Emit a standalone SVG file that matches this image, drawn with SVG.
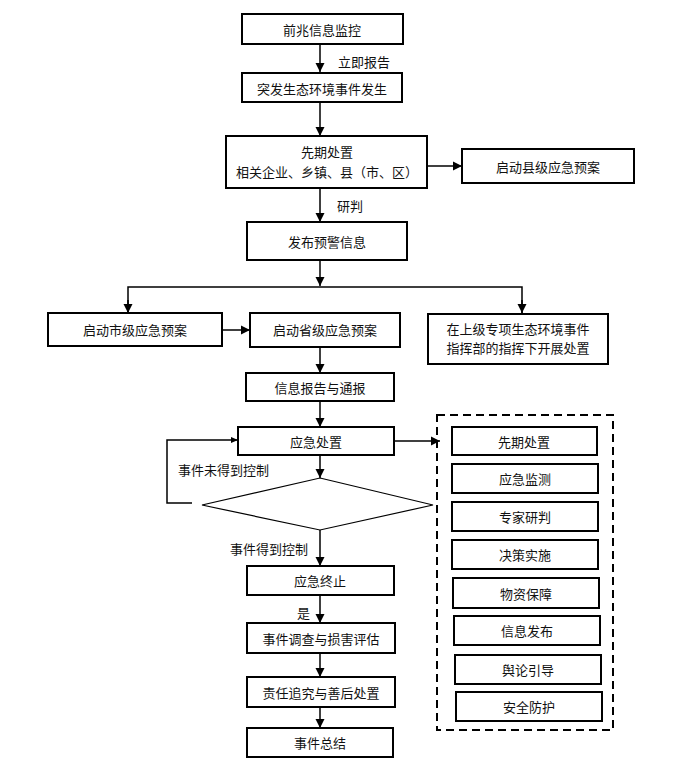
<svg xmlns="http://www.w3.org/2000/svg" width="676" height="760" viewBox="0 0 676 760">
<defs>
<style>
.box{fill:#fff;stroke:#000;stroke-width:2}
.t{font-family:"Noto Sans CJK SC","Noto Sans CJK JP",sans-serif;font-size:13px;fill:#111;text-anchor:middle;dominant-baseline:central}
.l{font-family:"Noto Sans CJK SC","Noto Sans CJK JP",sans-serif;font-size:13px;fill:#111;dominant-baseline:central}
.c{fill:none;stroke:#000;stroke-width:1.5}
</style>
<marker id="ah" markerUnits="userSpaceOnUse" markerWidth="10" markerHeight="10" refX="9" refY="5" orient="auto">
<path d="M0,0.5 L9,5 L0,9.5 Z" fill="#000"/>
</marker>
<marker id="as" markerUnits="userSpaceOnUse" markerWidth="8" markerHeight="8" refX="7" refY="4" orient="auto">
<path d="M0,1 L7,4 L0,7 Z" fill="#000"/>
</marker>
</defs>
<rect width="676" height="760" fill="#fff"/>

<g id="connectors">
<path class="c" d="M320,44 V72" marker-end="url(#ah)"/>
<path class="c" d="M320,102 V136" marker-end="url(#ah)"/>
<path class="c" d="M427,166 H462" marker-end="url(#ah)"/>
<path class="c" d="M320,188 V222" marker-end="url(#ah)"/>
<path class="c" d="M320,260 V286" marker-end="url(#ah)"/>
<path class="c" d="M128,312 V287 H522 V313" />
<path class="c" d="M128,300 V313" marker-end="url(#ah)"/>
<path class="c" d="M522,300 V313" marker-end="url(#ah)"/>
<path class="c" d="M223,330 H250" marker-end="url(#ah)"/>
<path class="c" d="M320,347 V373" marker-end="url(#ah)"/>
<path class="c" d="M320,401 V427" marker-end="url(#ah)"/>
<path class="c" d="M394,441 H440" marker-end="url(#ah)"/>
<path class="c" d="M192,503 H167 V440 H238" marker-end="url(#as)"/>
<path class="c" d="M320,455 V478" marker-end="url(#ah)"/>
<path class="c" d="M320,530 V566" marker-end="url(#ah)"/>
<path class="c" d="M320,595 V623" marker-end="url(#ah)"/>
<path class="c" d="M320,653 V677" marker-end="url(#ah)"/>
<path class="c" d="M320,707 V728" marker-end="url(#ah)"/>
<text class="l" x="338" y="61">立即报告</text>
<text class="l" x="337" y="205">研判</text>
<text class="l" x="178" y="469">事件未得到控制</text>
<text class="l" x="230" y="548">事件得到控制</text>
<text class="l" x="297" y="612">是</text>
</g>

<g id="n1"><rect class="box" x="242" y="14" width="161" height="30"/><text class="t" x="322" y="29">前兆信息监控</text></g>
<g id="n2"><rect class="box" x="242" y="73" width="160" height="29"/><text class="t" x="322" y="88">突发生态环境事件发生</text></g>
<g id="n3"><rect class="box" x="226" y="136" width="201" height="52"/><text class="t" x="327" y="151">先期处置</text><text class="t" x="327" y="171">相关企业、乡镇、县（市、区）</text></g>
<g id="n4"><rect class="box" x="462" y="149" width="172" height="34"/><text class="t" x="548" y="166">启动县级应急预案</text></g>
<g id="n5"><rect class="box" x="247" y="222" width="160" height="38"/><text class="t" x="327" y="241">发布预警信息</text></g>
<g id="n6"><rect class="box" x="48" y="313" width="174" height="33"/><text class="t" x="135" y="329">启动市级应急预案</text></g>
<g id="n7"><rect class="box" x="250" y="313" width="150" height="34"/><text class="t" x="325" y="329">启动省级应急预案</text></g>
<g id="n8"><rect class="box" x="428" y="314" width="180" height="50"/><text class="t" x="518" y="328">在上级专项生态环境事件</text><text class="t" x="518" y="347">指挥部的指挥下开展处置</text></g>
<g id="n9"><rect class="box" x="246" y="373" width="148" height="28"/><text class="t" x="320" y="387">信息报告与通报</text></g>
<g id="n10"><rect class="box" x="238" y="427" width="156" height="28"/><text class="t" x="316" y="441">应急处置</text></g>
<g id="n11"><polygon points="320,478 433,505 320,530 202,505" fill="#fff" stroke="#000" stroke-width="1.2"/></g>
<g id="n12"><rect class="box" x="247" y="566" width="147" height="29"/><text class="t" x="320" y="580">应急终止</text></g>
<g id="n13"><rect class="box" x="247" y="623" width="148" height="30"/><text class="t" x="321" y="638">事件调查与损害评估</text></g>
<g id="n14"><rect class="box" x="247" y="677" width="148" height="30"/><text class="t" x="321" y="692">责任追究与善后处置</text></g>
<g id="n15"><rect class="box" x="247" y="728" width="146" height="29"/><text class="t" x="320" y="742">事件总结</text></g>

<g id="group">
<rect x="437" y="415" width="176" height="315" fill="none" stroke="#000" stroke-width="2" stroke-dasharray="8,5"/>
</g>
<g id="s1"><rect class="box" x="452" y="427" width="145" height="28"/><text class="t" x="524" y="441">先期处置</text></g>
<g id="s2"><rect class="box" x="452" y="464" width="146" height="29"/><text class="t" x="525" y="478">应急监测</text></g>
<g id="s3"><rect class="box" x="452" y="502" width="146" height="29"/><text class="t" x="525" y="516">专家研判</text></g>
<g id="s4"><rect class="box" x="452" y="540" width="146" height="29"/><text class="t" x="525" y="554">决策实施</text></g>
<g id="s5"><rect class="box" x="453" y="578" width="146" height="30"/><text class="t" x="526" y="593">物资保障</text></g>
<g id="s6"><rect class="box" x="454" y="616" width="146" height="29"/><text class="t" x="527" y="630">信息发布</text></g>
<g id="s7"><rect class="box" x="455" y="655" width="146" height="29"/><text class="t" x="528" y="669">舆论引导</text></g>
<g id="s8"><rect class="box" x="456" y="692" width="146" height="29"/><text class="t" x="529" y="706">安全防护</text></g>
</svg>
